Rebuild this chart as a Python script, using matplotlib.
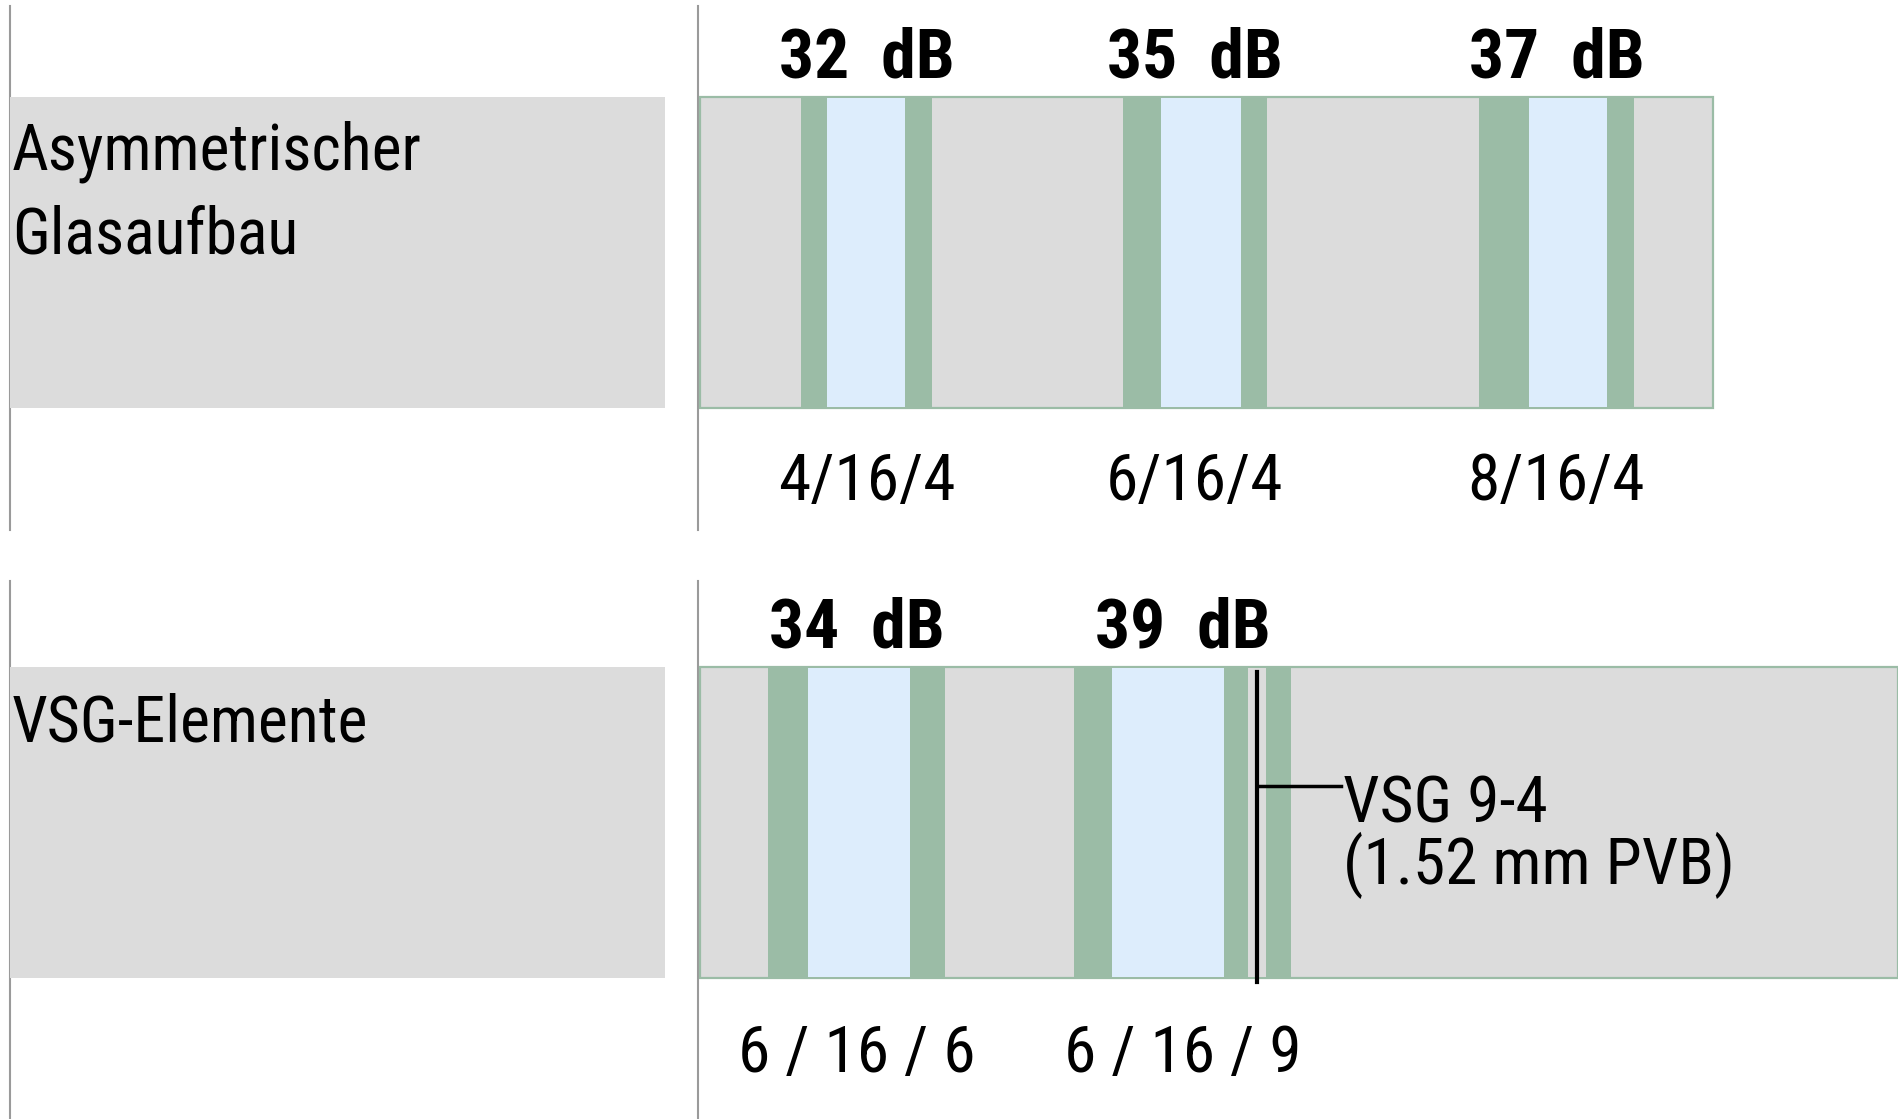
import matplotlib
matplotlib.use("Agg")
import matplotlib.pyplot as plt

# ---------------- data ----------------
row_titles = ["Asymmetrischer\nGlasaufbau", "VSG-Elemente"]

top_configs = ["4/16/4", "6/16/4", "8/16/4"]
top_db = [32, 35, 37]
top_starts = [801, 1123, 1479]
top_layer_widths = [[26, 78, 27], [38, 80, 26], [50, 78, 27]]
top_layer_kinds = [["glass", "gap", "glass"]] * 3

bottom_configs = ["6 / 16 / 6", "6 / 16 / 9"]
bottom_db = [34, 39]
bottom_starts = [768, 1074]
bottom_layer_widths = [[40, 102, 35], [38, 112, 24, 18, 25]]
bottom_layer_kinds = [["glass", "gap", "glass"],
                      ["glass", "gap", "glass", "pvb", "glass"]]

annotation_text = "VSG 9-4\n(1.52 mm PVB)"

# ---------------- style ----------------
W, H = 1898, 1119
DPI = 100
GRAY = "#dcdcdc"
GREEN = "#9bbca6"
BLUE = "#ddedfc"
AXIS = "#9a9a9a"
kind_colors = {"glass": GREEN, "gap": BLUE, "pvb": GRAY}

plt.rcParams["font.family"] = ["Roboto Condensed", "Liberation Sans", "DejaVu Sans"]

fig = plt.figure(figsize=(W / DPI, H / DPI), dpi=DPI)
ax = fig.add_axes([0, 0, 1, 1])
ax.set_xlim(0, W)
ax.set_ylim(H, 0)
ax.axis("off")

rows = [
    dict(y0=97, y1=408, band_right=1713, line_top=6, line_bot=530,
         db_y=78, cfg_y=500, title_y=253, configs=top_configs, db=top_db,
         starts=top_starts, widths=top_layer_widths, kinds=top_layer_kinds),
    dict(y0=667, y1=978, band_right=1898, line_top=581, line_bot=1119,
         db_y=648, cfg_y=1072, title_y=742, configs=bottom_configs, db=bottom_db,
         starts=bottom_starts, widths=bottom_layer_widths, kinds=bottom_layer_kinds),
]

LEFT_X0, LEFT_X1 = 10, 665
BAND_X0 = 700

for r, title in zip(rows, row_titles):
    y0, y1 = r["y0"], r["y1"]
    hgt = y1 - y0
    # axis lines
    ax.plot([LEFT_X0, LEFT_X0], [r["line_top"], r["line_bot"]], color=AXIS, lw=1.5, zorder=1)
    ax.plot([BAND_X0 - 2, BAND_X0 - 2], [r["line_top"], r["line_bot"]], color=AXIS, lw=1.5, zorder=1)
    # left title box
    ax.bar(LEFT_X0, hgt, width=LEFT_X1 - LEFT_X0, bottom=y0, align="edge",
           color=GRAY, edgecolor="none", zorder=2)
    # band
    ax.bar(BAND_X0, hgt, width=r["band_right"] - BAND_X0, bottom=y0, align="edge",
           color=GRAY, edgecolor=GREEN, linewidth=1.6, zorder=2)
    # glass layers
    for start, widths, kinds, cfg, db in zip(r["starts"], r["widths"], r["kinds"],
                                             r["configs"], r["db"]):
        x = start
        for w, k in zip(widths, kinds):
            ax.bar(x, hgt - 2, width=w, bottom=y0 + 1, align="edge",
                   color=kind_colors[k], edgecolor="none", zorder=3)
            if k == "pvb":
                xm = x + w / 2
                ax.plot([xm, xm], [y0 + 5, y1 + 4], color="black", lw=3, zorder=5)
                ax.plot([xm, 1341], [786, 786], color="black", lw=2.5, zorder=5)
                ax.text(1343, 884, annotation_text, fontsize=47, va="baseline",
                        ha="left", linespacing=0.93, color="black", zorder=6)
            x += w
        cx = start + sum(widths) / 2
        ax.text(cx, r["db_y"], f"{db}  dB", fontsize=50, fontweight="bold",
                ha="center", va="baseline", color="black", zorder=6)
        ax.text(cx, r["cfg_y"], cfg, fontsize=47, ha="center", va="baseline",
                color="black", zorder=6)
    # left title text
    ax.text(12, r["title_y"], title, fontsize=46, ha="left", va="baseline",
            linespacing=1.43, color="black", zorder=6)

fig.savefig("out.png", dpi=DPI)
